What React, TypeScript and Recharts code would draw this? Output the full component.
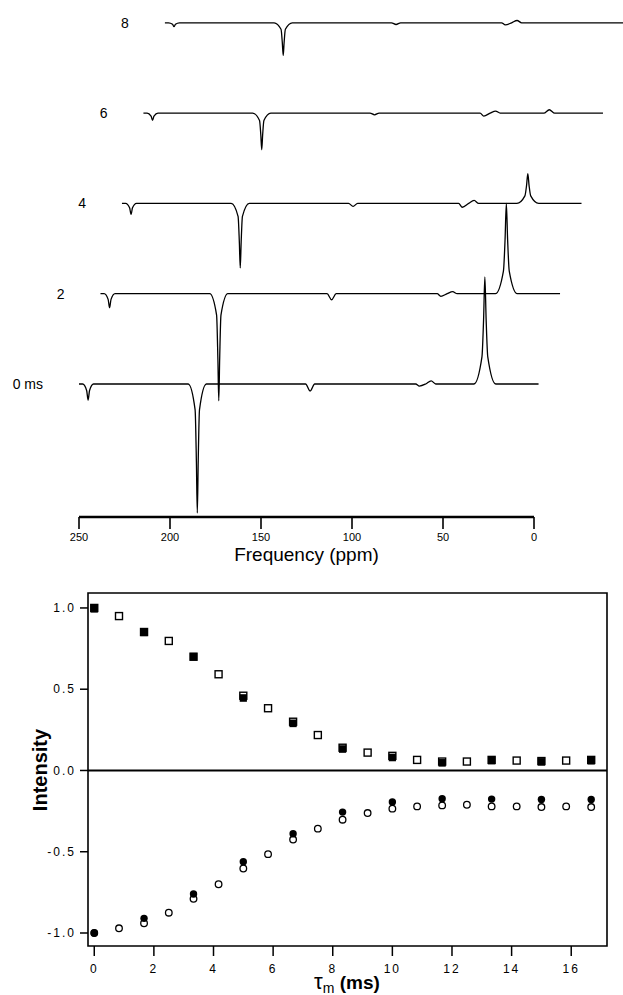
import { LineChart, Line, XAxis, YAxis, ReferenceLine, ReferenceDot, ScatterChart, Scatter, ReferenceArea } from 'recharts'

const FONT = '"Liberation Sans", Arial, Helvetica, sans-serif'

// --- top panel: 13C spectra at each mixing time, [ppm, intensity] traces
const MIX_LABELS = ['0 ms', '2', '4', '6', '8']

const SPEC_0 = [
  [250, 0], [248, 0], [245.8, -0.05], [245, -0.124], [244.2, -0.05], [242, 0],
  [190, 0], [186.2, -0.2], [185.5, -0.6], [185, -1.0], [184.5, -0.6], [183.8, -0.2], [180, 0],
  [125.5, 0], [123, -0.054], [120.5, 0],
  [65, 0], [63, -0.016], [59.5, 0], [56.5, 0.025], [54, 0],
  [33, 0], [28.6, 0.21], [27.7, 0.5], [27, 0.83], [26.3, 0.5], [25.4, 0.21], [21, 0],
  [-2.5, 0],
]
const SPEC_2 = [
  [250, 0], [248, 0], [245.8, -0.044], [245, -0.109], [244.2, -0.044], [242, 0],
  [190, 0], [186.2, -0.166], [185.5, -0.5], [185, -0.83], [184.5, -0.5], [183.8, -0.166], [180, 0],
  [125.5, 0], [123, -0.047], [120.5, 0],
  [65, 0], [63, -0.02], [59.5, 0], [56.5, 0.016], [54, 0],
  [33, 0], [28.6, 0.175], [27.7, 0.42], [27, 0.7], [26.3, 0.42], [25.4, 0.175], [21, 0],
  [-2.5, 0],
]
const SPEC_4 = [
  [250, 0], [248, 0], [245.8, -0.034], [245, -0.085], [244.2, -0.034], [242, 0],
  [190, 0], [186.2, -0.1], [185.5, -0.3], [185, -0.5], [184.5, -0.3], [183.8, -0.1], [180, 0],
  [125.5, 0], [123, -0.023], [120.5, 0],
  [65, 0], [63, -0.03], [59.5, 0], [56.5, 0.023], [54, 0],
  [33, 0], [28.6, 0.058], [27.7, 0.138], [27, 0.23], [26.3, 0.138], [25.4, 0.058], [21, 0],
  [-2.5, 0],
]
const SPEC_6 = [
  [250, 0], [248, 0], [245.8, -0.023], [245, -0.057], [244.2, -0.023], [242, 0],
  [190, 0], [186.2, -0.057], [185.5, -0.17], [185, -0.284], [184.5, -0.17], [183.8, -0.057], [180, 0],
  [125.5, 0], [123, -0.013], [120.5, 0],
  [65, 0], [63, -0.023], [59.5, 0], [56.5, 0.016], [54, 0],
  [30, 0], [27, 0.026], [24, 0],
  [-2.5, 0],
]
const SPEC_8 = [
  [250, 0], [248, 0], [245.8, -0.012], [245, -0.03], [244.2, -0.012], [242, 0],
  [190, 0], [186.2, -0.05], [185.5, -0.152], [185, -0.253], [184.5, -0.152], [183.8, -0.05], [180, 0],
  [125.5, 0], [123, -0.013], [120.5, 0],
  [65, 0], [63, -0.016], [59.5, 0], [56.5, 0.018], [54, 0],
  [-2.5, 0],
]
const SPECTRA = [SPEC_0, SPEC_2, SPEC_4, SPEC_6, SPEC_8]
const PPM_TICKS = [250, 200, 150, 100, 50, 0]

// waterfall offsets (ppm to the right, intensity up) per trace
const X_STEP = 11.8
const Y_STEP = 0.7
const PPM_DOMAIN = [-48.9, 250]
const SPEC_Y_DOMAIN = [-1.031, 2.938]

// --- bottom panel: peak intensity vs mixing time
const TIME_OPEN = [0, 0.83, 1.67, 2.5, 3.33, 4.17, 5, 5.83, 6.67, 7.5, 8.33, 9.17, 10, 10.83, 11.67, 12.5, 13.33, 14.17, 15, 15.83, 16.67]
const TIME_FILLED = [0, 1.67, 3.33, 5, 6.67, 8.33, 10, 11.67, 13.33, 15, 16.67]
const OPEN_SQUARE = [1.0, 0.95, 0.852, 0.797, 0.70, 0.592, 0.46, 0.383, 0.30, 0.218, 0.14, 0.11, 0.09, 0.065, 0.055, 0.055, 0.065, 0.061, 0.058, 0.061, 0.065]
const FILLED_SQUARE = [0.995, 0.85, 0.70, 0.446, 0.29, 0.132, 0.08, 0.047, 0.061, 0.053, 0.06]
const OPEN_CIRCLE = [-1.0, -0.971, -0.94, -0.875, -0.79, -0.70, -0.603, -0.515, -0.425, -0.358, -0.303, -0.262, -0.235, -0.221, -0.215, -0.211, -0.221, -0.221, -0.225, -0.221, -0.225]
const FILLED_CIRCLE = [-1.0, -0.91, -0.76, -0.562, -0.389, -0.256, -0.194, -0.174, -0.176, -0.178, -0.178]
const TIME_TICKS = [0, 2, 4, 6, 8, 10, 12, 14, 16]
const INTENSITY_TICKS = [-1, -0.5, 0, 0.5, 1]
const T_DOMAIN = [-0.21, 17.2]
const I_DOMAIN = [-1.08, 1.092]

const stacked = SPECTRA.map((spec, k) =>
  spec.map(([ppm, v]) => ({ x: ppm - k * X_STEP, y: v + k * Y_STEP }))
)

const points = (times: number[], vals: number[]) => times.map((t, i) => ({ t, v: vals[i] }))

const OpenSquare = (p: any) => (
  <rect x={p.cx - 3.5} y={p.cy - 3.5} width={7} height={7} fill="#fff" stroke="#000" strokeWidth={1.4} />
)
const FilledSquare = (p: any) => (
  <rect x={p.cx - 3.6} y={p.cy - 3.8} width={7.2} height={7.6} fill="#000" />
)
const OpenCircle = (p: any) => (
  <circle cx={p.cx} cy={p.cy} r={3.3} fill="#fff" stroke="#000" strokeWidth={1.3} />
)
const FilledCircle = (p: any) => <circle cx={p.cx} cy={p.cy} r={3.7} fill="#000" />

function SpectraPanel() {
  return (
    <LineChart width={623} height={575} margin={{ top: 5, right: 0, bottom: 0, left: 79 }}>
      <XAxis
        type="number"
        dataKey="x"
        domain={PPM_DOMAIN}
        reversed
        allowDataOverflow
        ticks={PPM_TICKS}
        interval={0}
        axisLine={false}
        tickSize={12}
        tickMargin={4}
        tickLine={{ stroke: '#000', strokeWidth: 1.6 }}
        tick={{ fontSize: 11, fill: '#000', fontFamily: FONT }}
        height={58}
      />
      <YAxis type="number" dataKey="y" domain={SPEC_Y_DOMAIN} allowDataOverflow hide />
      <ReferenceLine
        segment={[{ x: 250, y: SPEC_Y_DOMAIN[0] }, { x: 0, y: SPEC_Y_DOMAIN[0] }]}
        stroke="#000"
        strokeWidth={2.4}
        ifOverflow="visible"
        label={{ value: 'Frequency (ppm)', position: 'bottom', offset: 31, fill: '#000', fontSize: 19, fontFamily: FONT }}
      />
      {stacked.map((data, k) => (
        <Line
          key={k}
          data={data}
          dataKey="y"
          type="monotone"
          stroke="#000"
          strokeWidth={1.3}
          dot={false}
          isAnimationActive={false}
        />
      ))}
      {MIX_LABELS.map((lab, k) => (
        <ReferenceDot
          key={lab}
          x={250 - k * X_STEP}
          y={k * Y_STEP}
          r={1}
          fill="none"
          stroke="none"
          ifOverflow="visible"
          label={{ value: lab, position: 'left', offset: 35, fill: '#000', fontSize: 14, fontFamily: FONT }}
        />
      ))}
    </LineChart>
  )
}

function IntensityPanel() {
  return (
    <ScatterChart width={623} height={420} margin={{ top: 18, right: 16, bottom: 0, left: 0 }}>
      <XAxis
        type="number"
        dataKey="t"
        domain={T_DOMAIN}
        allowDataOverflow
        ticks={TIME_TICKS}
        interval={0}
        axisLine={false}
        tickSize={10}
        tickMargin={8}
        tickLine={{ stroke: '#000', strokeWidth: 1.5 }}
        tick={{ fontSize: 12, fill: '#000', fontFamily: FONT, letterSpacing: 2 }}
        height={49}
        label={{
          content: () => (
            <text x={347} y={414} textAnchor="middle" fill="#000" fontFamily={FONT} fontSize={19}>
              <tspan fontSize={22} fill="#000">τ</tspan>
              <tspan fontSize={14} dy={4} fill="#000">m</tspan>
              <tspan dy={-4} fontWeight="bold" fill="#000"> (ms)</tspan>
            </text>
          ),
        }}
      />
      <YAxis
        type="number"
        dataKey="v"
        domain={I_DOMAIN}
        allowDataOverflow
        ticks={INTENSITY_TICKS}
        interval={0}
        tickFormatter={(v: number) => v.toFixed(1)}
        axisLine={false}
        tickSize={8}
        tickMargin={4}
        tickLine={{ stroke: '#000', strokeWidth: 1.5 }}
        tick={{ fontSize: 12, fill: '#000', fontFamily: FONT, letterSpacing: 2 }}
        width={88}
        label={{
          content: () => (
            <text
              x={40}
              y={195}
              transform="rotate(-90 40 195)"
              textAnchor="middle"
              dominantBaseline="central"
              fill="#000"
              fontFamily={FONT}
              fontSize={20}
              fontWeight="bold"
            >
              Intensity
            </text>
          ),
        }}
      />
      <ReferenceArea
        x1={T_DOMAIN[0]}
        x2={T_DOMAIN[1]}
        y1={I_DOMAIN[0]}
        y2={I_DOMAIN[1]}
        fill="none"
        stroke="#000"
        strokeWidth={1.6}
      />
      <ReferenceLine y={0} stroke="#000" strokeWidth={2} />
      <Scatter data={points(TIME_OPEN, OPEN_SQUARE)} shape={OpenSquare} isAnimationActive={false} />
      <Scatter data={points(TIME_FILLED, FILLED_SQUARE)} shape={FilledSquare} isAnimationActive={false} />
      <Scatter data={points(TIME_OPEN, OPEN_CIRCLE)} shape={OpenCircle} isAnimationActive={false} />
      <Scatter data={points(TIME_FILLED, FILLED_CIRCLE)} shape={FilledCircle} isAnimationActive={false} />
    </ScatterChart>
  )
}

export default function App() {
  return (
    <div style={{ position: 'absolute', left: 0, top: 0, width: 623, height: 995, background: '#fff', fontFamily: FONT }}>
      <div style={{ position: 'absolute', left: 0, top: 0 }}>
        <SpectraPanel />
      </div>
      <div style={{ position: 'absolute', left: 0, top: 575 }}>
        <IntensityPanel />
      </div>
    </div>
  )
}
